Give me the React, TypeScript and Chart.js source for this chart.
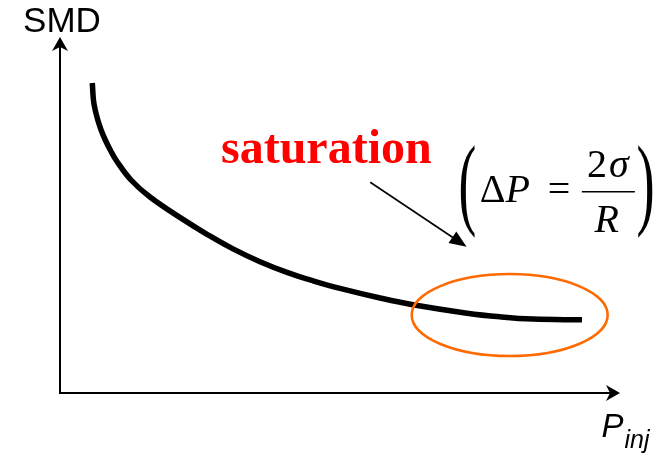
import React, { useEffect, useRef } from "react";
import { Chart, registerables } from "chart.js";

Chart.register(...registerables);

// Injection pressure (arbitrary units, 0..100) and SMD (arbitrary units, 0..100)
const pInj = [5.77, 5.975, 6.29, 6.75, 7.34, 8.09, 8.98, 10.0, 12.68, 16.07, 21.96, 26.25, 30.89, 35.71, 40.54, 45.18, 50.0, 57.14, 63.04, 72.68, 78.57, 84.46, 93.21];
const smd = [87.08, 82.3, 79.49, 76.69, 73.88, 71.07, 68.26, 65.45, 59.83, 55.06, 48.76, 44.58, 40.48, 36.88, 33.88, 31.52, 29.38, 26.69, 24.78, 22.42, 21.4, 20.76, 20.56];

// Annotation anchors in data units
const ELLIPSE = { cx: 80.3, cy: 21.9, rx: 17.5, ry: 11.5 };
const SAT_LABEL = { x: 28.75, y: 64.7, text: "saturation" };
const SAT_ARROW = { x0: 55.4, y0: 59.2, x1: 72.6, y1: 41.1 };
const FORMULA_AT = { x: 71.4, y: 56.7 };
const Y_LABEL = { x: -6.6, y: 101.4, text: "SMD" };
const X_LABEL = { x: 96.7, y: -12.3, main: "P", sub: "inj" };

function arrowHead(ctx: CanvasRenderingContext2D, tx: number, ty: number, ang: number, len: number, hw: number, notch: number) {
  ctx.save();
  ctx.translate(tx, ty);
  ctx.rotate(ang);
  ctx.beginPath();
  ctx.moveTo(0, 0);
  ctx.lineTo(-len, -hw);
  ctx.lineTo(-len + notch, 0);
  ctx.lineTo(-len, hw);
  ctx.closePath();
  ctx.fill();
  ctx.restore();
}

function drawParen(ctx: CanvasRenderingContext2D, ch: string, left: number, top: number, bottom: number, w: number) {
  ctx.save();
  ctx.font = '40px "Liberation Serif"';
  const m = ctx.measureText(ch);
  const a = m.actualBoundingBoxAscent, d = m.actualBoundingBoxDescent;
  const l = m.actualBoundingBoxLeft, r = m.actualBoundingBoxRight;
  const sy = (bottom - top) / (a + d);
  const sx = w / (l + r);
  ctx.translate(left, top);
  ctx.scale(sx, sy);
  ctx.textAlign = "left";
  ctx.textBaseline = "alphabetic";
  ctx.fillText(ch, l, a);
  ctx.restore();
}

const overlay = {
  id: "overlay",
  afterDraw(chart: any) {
    const { ctx, scales } = chart;
    const X = (v: number) => scales.x.getPixelForValue(v);
    const Y = (v: number) => scales.y.getPixelForValue(v);
    ctx.save();
    ctx.fillStyle = "#000";
    ctx.strokeStyle = "#000";

    // Axes with arrows
    const x0 = X(0), y0 = Y(0), xe = X(100), ye = Y(100);
    ctx.lineWidth = 2;
    ctx.beginPath();
    ctx.moveTo(x0, y0 + 1);
    ctx.lineTo(x0, ye + 8);
    ctx.moveTo(x0 - 1, y0);
    ctx.lineTo(xe - 8, y0);
    ctx.stroke();
    arrowHead(ctx, x0, ye, -Math.PI / 2, 14, 8, 4);
    arrowHead(ctx, xe, y0, 0, 14, 8, 4);

    // Axis labels
    ctx.textAlign = "left";
    ctx.textBaseline = "alphabetic";
    ctx.font = '35px "Liberation Sans"';
    ctx.fillText(Y_LABEL.text, X(Y_LABEL.x), Y(Y_LABEL.y));
    const px = X(X_LABEL.x), py = Y(X_LABEL.y);
    ctx.font = 'italic 33px "Liberation Sans"';
    ctx.fillText(X_LABEL.main, px, py);
    ctx.font = 'italic 25px "Liberation Sans"';
    ctx.fillText(X_LABEL.sub, px + 23, py + 11);

    // Ellipse
    ctx.strokeStyle = "#ff6a00";
    ctx.lineWidth = 2.5;
    ctx.beginPath();
    const ecx = X(ELLIPSE.cx), ecy = Y(ELLIPSE.cy);
    ctx.ellipse(ecx, ecy, X(ELLIPSE.cx + ELLIPSE.rx) - ecx, ecy - Y(ELLIPSE.cy + ELLIPSE.ry), 0, 0, Math.PI * 2);
    ctx.stroke();

    // saturation label
    ctx.fillStyle = "#ff0000";
    ctx.font = 'bold 48px "Liberation Serif"';
    ctx.fillText(SAT_LABEL.text, X(SAT_LABEL.x), Y(SAT_LABEL.y));

    // arrow to formula
    ctx.fillStyle = "#000";
    ctx.strokeStyle = "#000";
    const ax0 = X(SAT_ARROW.x0), ay0 = Y(SAT_ARROW.y0), ax1 = X(SAT_ARROW.x1), ay1 = Y(SAT_ARROW.y1);
    const ang = Math.atan2(ay1 - ay0, ax1 - ax0);
    ctx.lineWidth = 1.6;
    ctx.beginPath();
    ctx.moveTo(ax0, ay0);
    ctx.lineTo(ax1 - Math.cos(ang) * 12, ay1 - Math.sin(ang) * 12);
    ctx.stroke();
    arrowHead(ctx, ax1, ay1, ang, 17, 7, 0);

    // Formula
    const fx = X(FORMULA_AT.x), fy = Y(FORMULA_AT.y);
    drawParen(ctx, "(", fx, fy - 46, fy + 47, 16);
    drawParen(ctx, ")", fx + 178, fy - 46, fy + 47, 15);
    ctx.font = '40px "Liberation Serif"';
    ctx.textAlign = "left";
    ctx.fillText("\u0394", fx + 20, fy + 11);
    const dw = ctx.measureText("\u0394").width;
    ctx.font = 'italic 40px "Liberation Serif"';
    ctx.fillText("P", fx + 20 + dw, fy + 11);
    ctx.font = '40px "Liberation Serif"';
    ctx.fillText("=", fx + 88, fy + 11);
    ctx.lineWidth = 1.5;
    ctx.beginPath();
    ctx.moveTo(fx + 122, fy + 0.7);
    ctx.lineTo(fx + 175, fy + 0.7);
    ctx.stroke();
    // numerator 2σ
    ctx.font = '40px "Liberation Serif"';
    const w2 = ctx.measureText("2").width;
    ctx.font = 'italic 40px "Liberation Serif"';
    const ws = ctx.measureText("\u03C3").width;
    const nStart = fx + 148 - (w2 + ws + 2) / 2;
    ctx.font = '40px "Liberation Serif"';
    ctx.fillText("2", nStart, fy - 14.3);
    ctx.font = 'italic 40px "Liberation Serif"';
    ctx.fillText("\u03C3", nStart + w2 + 2, fy - 14.3);
    // denominator R
    ctx.textAlign = "center";
    ctx.fillText("R", fx + 147, fy + 40.7);

    ctx.restore();
  },
};

export default function App() {
  const ref = useRef<HTMLCanvasElement>(null);
  useEffect(() => {
    document.body.style.margin = "0";
    const chart = new Chart(ref.current as HTMLCanvasElement, {
      type: "line",
      data: {
        datasets: [
          {
            data: pInj.map((x, i) => ({ x, y: smd[i] })),
            borderColor: "#000",
            borderWidth: 5.5,
            pointRadius: 0,
            tension: 0.4,
            fill: false,
            borderCapStyle: "butt",
            borderJoinStyle: "round",
          },
        ],
      },
      options: {
        animation: false,
        responsive: false,
        devicePixelRatio: 1,
        events: [],
        layout: { padding: { left: 60, top: 37, right: 50, bottom: 61 } },
        scales: {
          x: { type: "linear", min: 0, max: 100, display: false },
          y: { type: "linear", min: 0, max: 100, display: false },
        },
        plugins: { legend: { display: false }, tooltip: { enabled: false } },
      },
      plugins: [overlay],
    } as any);
    return () => chart.destroy();
  }, []);
  return (
    <div style={{ width: 670, height: 454 }}>
      <canvas ref={ref} width={670} height={454} style={{ display: "block" }} />
    </div>
  );
}
